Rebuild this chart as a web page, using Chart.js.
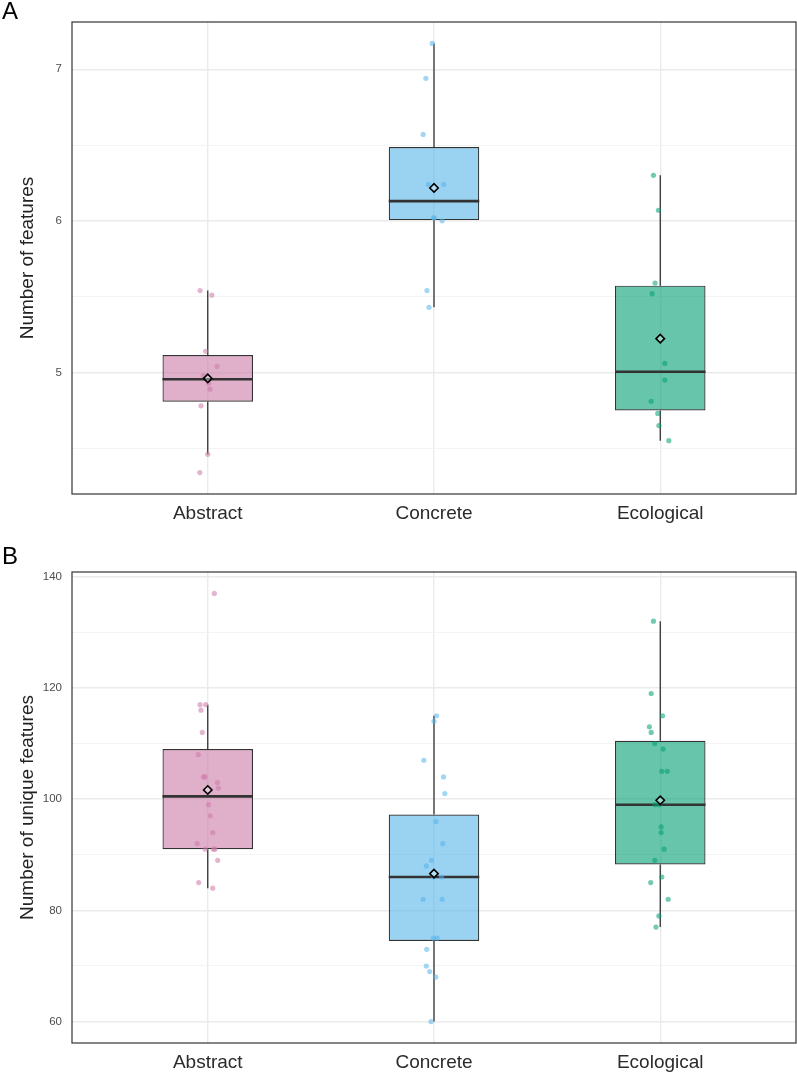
<!DOCTYPE html>
<html>
<head>
<meta charset="utf-8">
<title>Features by category</title>
<script src="https://cdn.jsdelivr.net/npm/chart.js@4.4.1/dist/chart.umd.min.js"></script>
<style>
  body { margin: 0; background: #fff; }
  #wrap { position: relative; width: 797px; height: 1074px; }
  .panel-label { position: absolute; left: 2px; font: 24px/24px "Liberation Sans", Arial, sans-serif; color: #000; }
  .panel { position: absolute; left: 0; width: 797px; }
</style>
</head>
<body>
<div id="wrap">
  <div class="panel" style="top:0;height:535px"><canvas id="chartA"></canvas></div>
  <div class="panel" style="top:535px;height:539px"><canvas id="chartB"></canvas></div>
  <div class="panel-label" style="top:-1px">A</div>
  <div class="panel-label" style="top:544px">B</div>
</div>
<script>
// categories and colours (Okabe-Ito)
const categories = ["Abstract", "Concrete", "Ecological"];
const baseColors = ["204, 121, 167", "86, 180, 233", "0, 158, 115"];

// Panel A: number of features per item
const abstractA   = [5.54, 5.51, 5.14, 5.04, 4.98, 4.93, 4.89, 4.78, 4.46, 4.34];
const concreteA   = [7.17, 6.94, 6.57, 6.24, 6.24, 6.02, 6.02, 6.00, 5.54, 5.43];
const ecologicalA = [6.30, 6.07, 5.59, 5.52, 5.06, 4.95, 4.81, 4.73, 4.65, 4.55];
// horizontal jitter (category units) of the dots
const abstractJitA   = [-0.034, 0.018, -0.009, 0.041, -0.019, 0.004, 0.010, -0.030, 0.000, -0.035];
const concreteJitA   = [-0.008, -0.036, -0.048, -0.025, 0.043, 0.000, -0.001, 0.036, -0.031, -0.022];
const ecologicalJitA = [-0.030, -0.008, -0.023, -0.036, 0.020, 0.020, -0.040, -0.011, -0.006, 0.038];

// Panel B: number of unique features
const abstractB   = [137, 117, 117, 116, 112, 108, 104, 104, 103, 102, 99, 97, 94, 92, 91, 91, 91, 89, 85, 84];
const concreteB   = [115, 114, 107, 104, 101, 96, 92, 89, 88, 86, 86, 82, 82, 75, 75, 73, 70, 69, 68, 60];
const ecologicalB = [132, 119, 115, 113, 112, 110, 109, 105, 105, 99, 99, 95, 94, 91, 89, 86, 85, 82, 79, 77];
const abstractJitB   = [0.029, -0.034, -0.009, -0.030, -0.024, -0.042, -0.019, -0.012, 0.043, 0.047, 0.004, 0.011, 0.022, -0.047, -0.011, 0.025, 0.032, 0.044, -0.040, 0.022];
const concreteJitB   = [0.011, 0.000, -0.045, 0.042, 0.048, 0.009, 0.039, -0.011, -0.034, 0.033, -0.002, -0.048, 0.036, -0.003, 0.014, -0.032, -0.034, -0.019, 0.008, -0.013];
const ecologicalJitB = [-0.030, -0.040, 0.010, -0.048, -0.040, -0.024, 0.013, 0.007, 0.031, -0.023, -0.004, 0.004, 0.004, 0.017, -0.024, 0.007, -0.042, 0.035, -0.006, -0.019];

// y ticks
const yMajorA = [5, 6, 7];
const yMinorA = [4.5, 5.5, 6.5];
const yMajorB = [60, 80, 100, 120, 140];
const yMinorB = [70, 90, 110, 130];

const FONT = '"Liberation Sans", Arial, Helvetica, sans-serif';
const BOX_WIDTH = 0.4;

// type-7 quantile, like R's default
function quantile(sorted, p) {
    const h = (sorted.length - 1) * p;
    const lo = Math.floor(h);
    const next = lo + 1 < sorted.length ? sorted[lo + 1] : sorted[lo];
    return sorted[lo] + (h - lo) * (next - sorted[lo]);
}

function boxStats(vals) {
    const s = [...vals].sort((a, b) => a - b);
    const q1 = quantile(s, 0.25), med = quantile(s, 0.5), q3 = quantile(s, 0.75);
    const iqr = q3 - q1;
    const lo = s.find(v => v >= q1 - 1.5 * iqr);
    const hi = [...s].reverse().find(v => v <= q3 + 1.5 * iqr);
    const mean = s.reduce((a, b) => a + b, 0) / s.length;
    return { q1, med, q3, lo, hi, mean };
}

// draws the dark frame round the plot area
const framePlugin = {
    id: "frame",
    beforeDatasetsDraw(chart) {
        const { ctx, chartArea: a } = chart;
        ctx.save();
        ctx.strokeStyle = "#333333";
        ctx.lineWidth = 1.2;
        ctx.strokeRect(a.left, a.top, a.right - a.left, a.bottom - a.top);
        ctx.restore();
    }
};

function makePanel(canvasId, groups, jitters, yTitle, major, minor, padTop, xAxisHeight) {
    const stats = groups.map(boxStats);
    const allVals = groups.flat();
    const dMin = Math.min(...allVals), dMax = Math.max(...allVals);
    const pad = (dMax - dMin) * 0.05;

    const boxData = stats.map((s, i) => ({ x: i + 1, y: [s.q1, s.q3] }));
    const whiskerData = [];
    const medianData = [];
    stats.forEach((s, i) => {
        whiskerData.push({ x: i + 1, y: s.hi }, { x: i + 1, y: s.q3 }, { x: i + 1, y: null });
        whiskerData.push({ x: i + 1, y: s.q1 }, { x: i + 1, y: s.lo }, { x: i + 1, y: null });
        medianData.push({ x: i + 1 - BOX_WIDTH / 2, y: s.med }, { x: i + 1 + BOX_WIDTH / 2, y: s.med }, { x: i + 1, y: null });
    });
    const pointData = [], pointColors = [];
    groups.forEach((vals, i) => {
        vals.forEach((v, j) => {
            pointData.push({ x: i + 1 + jitters[i][j], y: v });
            pointColors.push(`rgba(${baseColors[i]}, 0.55)`);
        });
    });
    const meanData = stats.map((s, i) => ({ x: i + 1, y: s.mean }));

    const isMajor = v => major.includes(v);

    new Chart(document.getElementById(canvasId), {
        type: "bar",
        data: {
            datasets: [
                {
                    type: "bar",
                    data: boxData,
                    backgroundColor: baseColors.map(c => `rgba(${c}, 0.6)`),
                    borderColor: "#333333",
                    borderWidth: 1.2,
                    borderSkipped: false,
                    categoryPercentage: 1,
                    barPercentage: BOX_WIDTH,
                    order: 5
                },
                {
                    type: "line",
                    data: whiskerData,
                    borderColor: "#333333",
                    borderWidth: 1.3,
                    pointRadius: 0,
                    spanGaps: false,
                    order: 4
                },
                {
                    type: "line",
                    data: medianData,
                    borderColor: "#333333",
                    borderWidth: 2.6,
                    pointRadius: 0,
                    spanGaps: false,
                    order: 3
                },
                {
                    type: "scatter",
                    data: pointData,
                    backgroundColor: pointColors,
                    borderWidth: 0,
                    pointRadius: 2.6,
                    order: 2
                },
                {
                    type: "scatter",
                    data: meanData,
                    pointStyle: "rectRot",
                    pointRadius: 4.2,
                    backgroundColor: "rgba(255, 255, 255, 0.35)",
                    borderColor: "#000000",
                    borderWidth: 1.6,
                    order: 1
                }
            ]
        },
        options: {
            responsive: true,
            maintainAspectRatio: false,
            animation: false,
            events: [],
            // no extra room for point overflow, the frame should reach the right edge
            layout: { autoPadding: false, padding: { top: padTop, right: 1, left: 0, bottom: 0 } },
            plugins: { legend: { display: false }, tooltip: { enabled: false } },
            scales: {
                x: {
                    type: "linear",
                    min: 0.4,
                    max: 3.6,
                    offset: false,
                    afterBuildTicks: axis => { axis.ticks = categories.map((c, i) => ({ value: i + 1 })); },
                    afterFit: scale => {
                        scale.height = xAxisHeight;
                        scale.paddingLeft = 0;
                        scale.paddingRight = 0;
                    },
                    ticks: {
                        callback: v => categories[v - 1],
                        color: "#2b2b2b",
                        font: { family: FONT, size: 19 },
                        padding: 8,
                        maxRotation: 0
                    },
                    grid: { offset: false, color: "#EBEBEB", lineWidth: 1.4, drawTicks: false },
                    border: { display: false }
                },
                y: {
                    type: "linear",
                    min: dMin - pad,
                    max: dMax + pad,
                    afterBuildTicks: axis => {
                        axis.ticks = [...major, ...minor].sort((a, b) => a - b).map(v => ({ value: v }));
                    },
                    afterFit: scale => { scale.width = 72; },
                    ticks: {
                        callback: v => isMajor(v) ? String(v) : "",
                        color: "#4D4D4D",
                        font: { family: FONT, size: 11.5 },
                        padding: 10
                    },
                    grid: {
                        color: c => (c.tick && isMajor(c.tick.value)) ? "#EBEBEB" : "#F3F3F3",
                        lineWidth: c => (c.tick && isMajor(c.tick.value)) ? 1.4 : 0.9,
                        drawTicks: false
                    },
                    border: { display: false },
                    title: {
                        display: true,
                        text: yTitle,
                        color: "#222222",
                        font: { family: FONT, size: 19 },
                        padding: { top: 16, bottom: 0 }
                    }
                }
            }
        },
        plugins: [framePlugin]
    });
}

makePanel("chartA",
    [abstractA, concreteA, ecologicalA],
    [abstractJitA, concreteJitA, ecologicalJitA],
    "Number of features", yMajorA, yMinorA, 22, 41);

makePanel("chartB",
    [abstractB, concreteB, ecologicalB],
    [abstractJitB, concreteJitB, ecologicalJitB],
    "Number of unique features", yMajorB, yMinorB, 37, 31);
</script>
</body>
</html>
